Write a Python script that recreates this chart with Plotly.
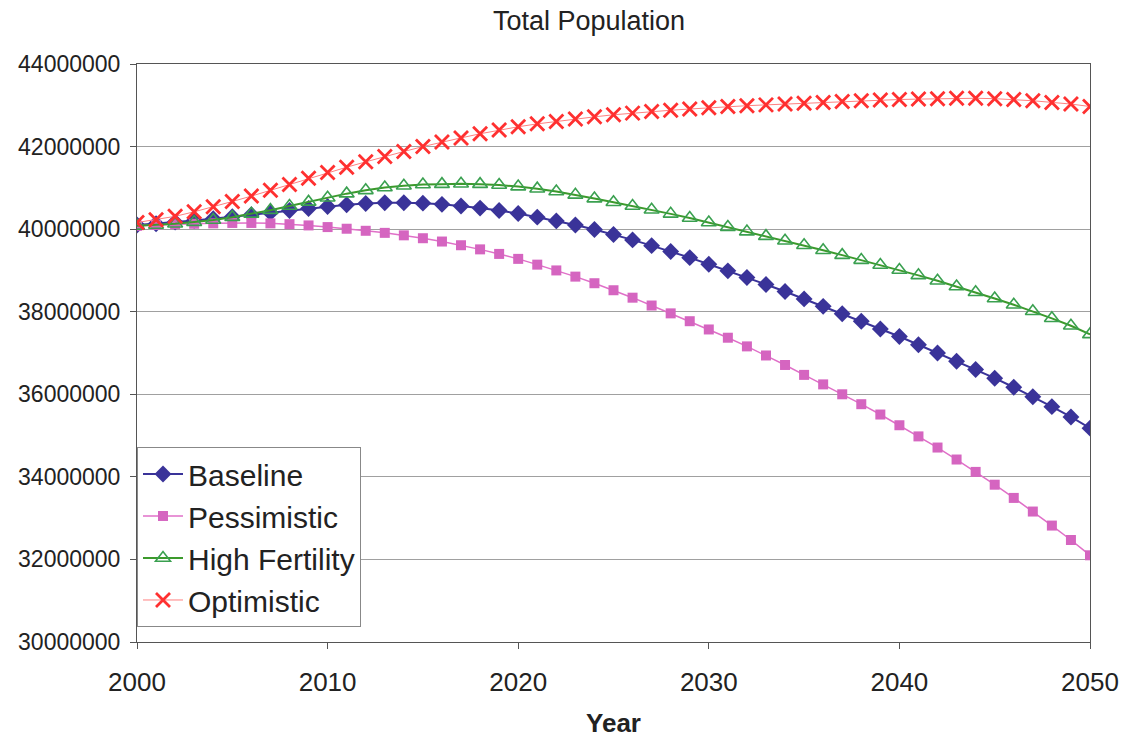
import plotly.graph_objects as go

years = list(range(2000, 2051))

# Projected totals, in millions of people
baseline = [
    40.10, 40.13, 40.17, 40.21, 40.25, 40.30, 40.35, 40.40, 40.45, 40.50,
    40.55, 40.59, 40.62, 40.64, 40.64, 40.63, 40.60, 40.56, 40.51, 40.45,
    40.38, 40.29, 40.20, 40.10, 39.99, 39.87, 39.74, 39.60, 39.46, 39.31,
    39.15, 38.99, 38.83, 38.66, 38.49, 38.31, 38.13, 37.95, 37.77, 37.58,
    37.40, 37.20, 37.00, 36.80, 36.60, 36.39, 36.17, 35.94, 35.70, 35.45,
    35.18,
]
pessimistic = [
    40.08, 40.10, 40.12, 40.13, 40.14, 40.15, 40.15, 40.14, 40.12, 40.09,
    40.05, 40.01, 39.96, 39.91, 39.85, 39.78, 39.70, 39.61, 39.51, 39.40,
    39.28, 39.14, 39.00, 38.85, 38.69, 38.52, 38.34, 38.15, 37.96, 37.77,
    37.57, 37.37, 37.16, 36.94, 36.71, 36.47, 36.24, 36.00, 35.76, 35.51,
    35.25, 34.98, 34.71, 34.42, 34.12, 33.81, 33.49, 33.16, 32.82, 32.47,
    32.10,
]
high_fertility = [
    40.08, 40.10, 40.13, 40.17, 40.22, 40.29, 40.37, 40.46, 40.56, 40.66,
    40.76, 40.86, 40.94, 41.01, 41.05, 41.08, 41.09, 41.10, 41.09, 41.07,
    41.03, 40.98, 40.91, 40.83, 40.74, 40.65, 40.56, 40.47, 40.37, 40.27,
    40.16, 40.05, 39.94, 39.83, 39.72, 39.61, 39.49, 39.37, 39.25, 39.13,
    39.01, 38.88, 38.75, 38.61, 38.47, 38.32, 38.17, 38.01, 37.84, 37.66,
    37.45,
]
optimistic = [
    40.16, 40.23, 40.31, 40.42, 40.54, 40.67, 40.80, 40.94, 41.08, 41.23,
    41.37, 41.50, 41.63, 41.76, 41.88, 42.00, 42.11, 42.21, 42.31, 42.40,
    42.48, 42.55, 42.61, 42.67, 42.72, 42.77, 42.81, 42.85, 42.88, 42.91,
    42.94, 42.97, 42.99, 43.01, 43.03, 43.05, 43.07, 43.09, 43.11, 43.13,
    43.14, 43.15, 43.16, 43.17, 43.17, 43.16, 43.14, 43.11, 43.07, 43.03,
    42.97,
]

y_ticks = [30000000, 32000000, 34000000, 36000000, 38000000, 40000000, 42000000, 44000000]
x_ticks = [2000, 2010, 2020, 2030, 2040, 2050]


def people(vals):
    return [v * 1_000_000 for v in vals]


fig = go.Figure()

fig.add_trace(go.Scatter(
    x=years, y=people(baseline), name="Baseline", mode="lines+markers",
    line=dict(color="#3a3399", width=2),
    marker=dict(symbol="diamond", size=13, color="#3a3399"),
))
fig.add_trace(go.Scatter(
    x=years, y=people(pessimistic), name="Pessimistic", mode="lines+markers",
    line=dict(color="#e070c8", width=1.5),
    marker=dict(symbol="square", size=10, color="#d565c0"),
))
fig.add_trace(go.Scatter(
    x=years, y=people(high_fertility), name="High Fertility", mode="lines+markers",
    line=dict(color="#3c9a2c", width=2),
    marker=dict(symbol="triangle-up-open", size=13, color="#3aa050",
                line=dict(width=1.6, color="#3aa050")),
))
fig.add_trace(go.Scatter(
    x=years, y=people(optimistic), name="Optimistic", mode="lines+markers",
    line=dict(color="#ff8080", width=1),
    marker=dict(symbol="x-thin-open", size=14, color="#ff3030",
                line=dict(width=2.8, color="#ff3030")),
))

fig.update_layout(
    width=1124, height=741,
    margin=dict(l=137, r=34, t=64, b=99, autoexpand=False),
    paper_bgcolor="white", plot_bgcolor="white",
    font=dict(family="Liberation Sans", color="#222222"),
    title=dict(text="Total Population", x=0.524, xanchor="center", y=0.972, yanchor="middle",
               font=dict(family="Liberation Sans", size=27, color="#222222")),
    legend=dict(x=0, y=0.026, xanchor="left", yanchor="bottom",
                bgcolor="white", bordercolor="#888888", borderwidth=1,
                font=dict(size=30, color="#222222"),
                itemwidth=40, itemsizing="trace", tracegroupgap=0),
    showlegend=True,
)

fig.update_xaxes(
    range=[2000, 2050], tickvals=x_ticks, showgrid=False, automargin=False,
    showline=True, linecolor="#555555", linewidth=1, mirror=True,
    ticks="outside", ticklen=6, tickcolor="#555555",
    ticklabelstandoff=11,
    tickfont=dict(size=26, color="#222222"),
    title=dict(text="<b>Year</b>", font=dict(size=26, color="#222222"), standoff=17),
    zeroline=False,
)
fig.update_yaxes(
    range=[30000000, 44000000], tickvals=y_ticks, tickformat="d", automargin=False,
    showgrid=True, gridcolor="#a0a0a0", gridwidth=1,
    showline=True, linecolor="#555555", linewidth=1, mirror=True,
    ticks="outside", ticklen=6, tickcolor="#555555",
    ticklabelstandoff=5,
    tickfont=dict(size=23, color="#222222"),
    zeroline=False,
)

fig.write_html("out.html")
